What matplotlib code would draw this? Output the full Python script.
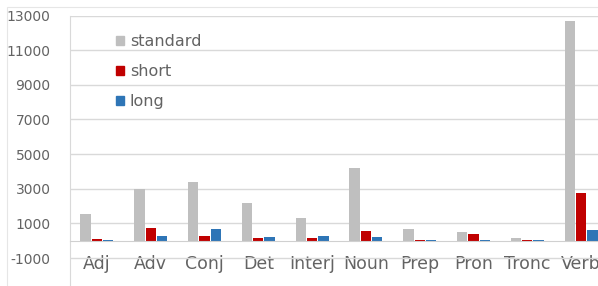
import matplotlib.pyplot as plt
import numpy as np
from matplotlib.patches import Patch, Rectangle

categories = ['Adj', 'Adv', 'Conj', 'Det', 'Interj', 'Noun', 'Prep', 'Pron', 'Tronc', 'Verb']
standard = [1530, 2970, 3400, 2200, 1290, 4180, 670, 520, 170, 12670]
short = [110, 710, 260, 130, 130, 570, 40, 380, 30, 2760]
long_ = [50, 250, 650, 220, 300, 220, 50, 50, 40, 620]
yticks = [-1000, 1000, 3000, 5000, 7000, 9000, 11000, 13000]

c_std = '#bfbfbf'
c_short = '#c00000'
c_long = '#2e75b6'
txt = '#636363'

fig = plt.figure(figsize=(5.98, 2.86), dpi=100)
# chart border (light)
fig.patches.append(Rectangle((7 / 598, -0.1), 1.2, 1.1 - 7 / 286, transform=fig.transFigure,
                             fill=False, edgecolor='#e6e6e6', linewidth=0.8))

ax = fig.add_axes([70 / 598, 0, 538 / 598, (286 - 15.5) / 286])

x = np.arange(len(categories))
w = 0.19
ax.bar(x - 0.21, standard, w, color=c_std, zorder=3)
ax.bar(x, short, w, color=c_short, zorder=3)
ax.bar(x + 0.21, long_, w, color=c_long, zorder=3)

ax.set_xlim(-0.5, len(categories) - 0.5)
ax.set_ylim(-2615, 13000)
ax.set_yticks(yticks)
ax.set_yticklabels([str(v) for v in yticks])
ax.yaxis.grid(True, color='#d9d9d9', linewidth=1, zorder=0)
ax.set_xticks(x)
ax.set_xticklabels(categories)

ax.spines['top'].set_visible(False)
ax.spines['right'].set_visible(False)
ax.spines['bottom'].set_position(('data', 0))
ax.spines['bottom'].set_color('#d0d0d0')
ax.spines['left'].set_color('#d9d9d9')
ax.spines['bottom'].set_zorder(4)

ax.tick_params(axis='x', length=0, pad=10, labelsize=12.5, labelcolor=txt)
ax.tick_params(axis='y', length=0, pad=14, labelsize=10, labelcolor=txt)

handles = [Patch(color=c_std), Patch(color=c_short), Patch(color=c_long)]
ax.legend(handles, ['standard', 'short', 'long'], loc='upper left',
          bbox_to_anchor=(0.058, 0.985), frameon=False, fontsize=11.5,
          handlelength=0.5, handleheight=0.5, handletextpad=0.4,
          labelspacing=0.95, labelcolor=txt)

fig.savefig('out.png', dpi=100)
